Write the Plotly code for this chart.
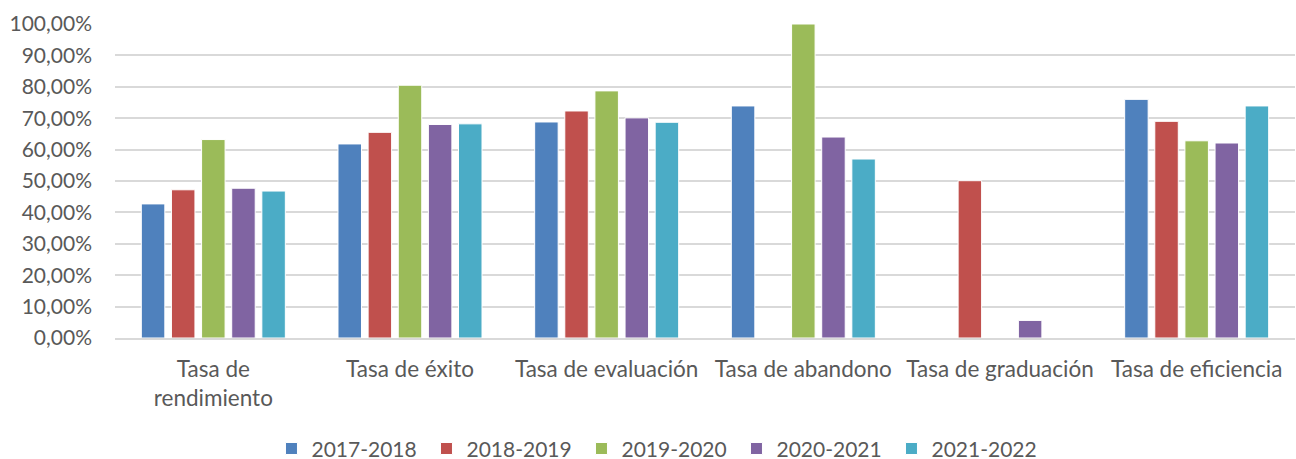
import plotly.graph_objects as go

categories = ["Tasa de<br>rendimiento", "Tasa de éxito", "Tasa de evaluación",
              "Tasa de abandono", "Tasa de graduación", "Tasa de eficiencia"]
series_names = ["2017-2018", "2018-2019", "2019-2020", "2020-2021", "2021-2022"]
s2017 = [0.427, 0.618, 0.688, 0.739, None, 0.760]
s2018 = [0.472, 0.655, 0.723, None, 0.501, 0.690]
s2019 = [0.632, 0.805, 0.787, 1.000, None, 0.628]
s2020 = [0.477, 0.680, 0.701, 0.640, 0.056, 0.621]
s2021 = [0.468, 0.682, 0.687, 0.570, None, 0.739]
colors = ["#4F81BD", "#C0504D", "#9BBB59", "#8064A2", "#4BACC6"]

FONT = "Lato"
fig = go.Figure()
for name, vals, col in zip(series_names, [s2017, s2018, s2019, s2020, s2021], colors):
    fig.add_trace(go.Bar(x=categories, y=vals, name=name,
                         marker=dict(color=col, line=dict(color="white", width=1))))

fig.update_layout(
    width=1296, height=459,
    margin=dict(l=115, r=1, t=24, b=121, autoexpand=False),
    paper_bgcolor="white", plot_bgcolor="white",
    separators=",.",
    barmode="group", bargap=0.234, bargroupgap=0.22,
    font=dict(family=FONT, size=21, color="#595959"),
    showlegend=True,
    legend=dict(orientation="h", x=0.461, xanchor="center", y=-0.353, yanchor="middle",
                font=dict(size=21, color="#595959"),
                entrywidth=110, entrywidthmode="pixels", itemwidth=30),
    yaxis=dict(range=[0, 1], dtick=0.1, tickformat=".2%", showgrid=True,
               gridcolor="#D9D9D9", gridwidth=1.5, zeroline=False,
               ticklabelstandoff=22, fixedrange=True, automargin=False,
               tickfont=dict(size=21)),
    xaxis=dict(showline=True, linecolor="#D9D9D9", linewidth=1.5,
               ticks="", ticklabelstandoff=10, tickangle=0, automargin=False,
               tickfont=dict(size=22.5)),
)
fig.write_html("out.html", config={"displayModeBar": False},
               post_script="document.body.style.margin='0';")
